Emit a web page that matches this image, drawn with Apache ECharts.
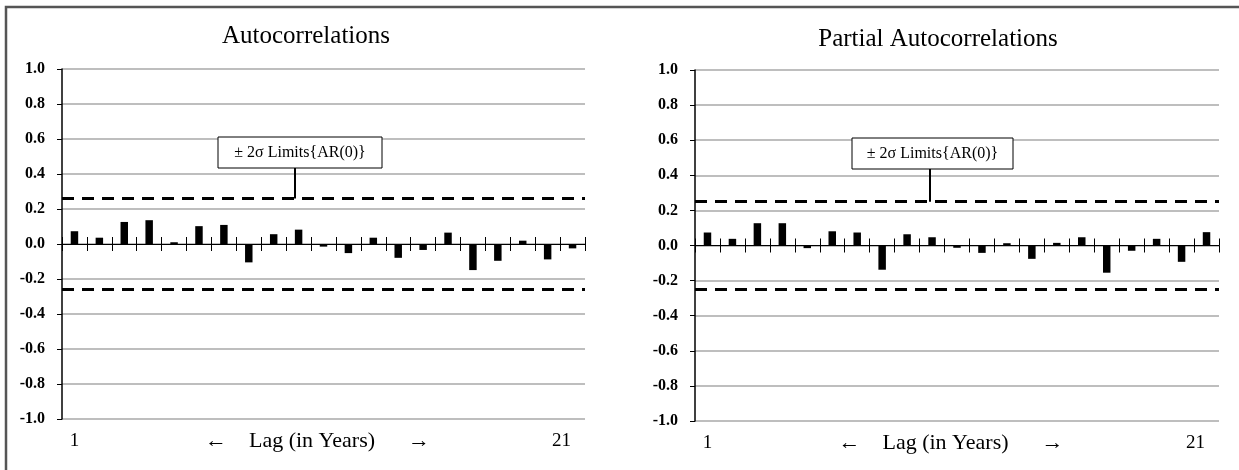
<!DOCTYPE html>
<html><head><meta charset="utf-8">
<script src="https://cdn.jsdelivr.net/npm/echarts@6/dist/echarts.min.js"></script>
<style>html,body{margin:0;padding:0;background:#fff}#c{width:1239px;height:470px}</style>
</head><body><div id="c"></div>
<script>
const lags = ['1','2','3','4','5','6','7','8','9','10','11','12','13','14','15','16','17','18','19','20','21'];
const acf  = [0.073, 0.036, 0.126, 0.136, 0.010, 0.102, 0.109, -0.105, 0.056, 0.082, -0.015,
              -0.052, 0.036, -0.079, -0.034, 0.065, -0.149, -0.096, 0.019, -0.088, -0.025];
const pacf = [0.074, 0.038, 0.127, 0.127, -0.015, 0.081, 0.074, -0.138, 0.064, 0.047, -0.013,
              -0.042, 0.013, -0.076, 0.015, 0.047, -0.155, -0.030, 0.038, -0.093, 0.076];
const acfLimit = 0.26;
const pacfLimit = 0.25;
const yMin = -1.0, yMax = 1.0, yStep = 0.2;
const titles = ['Autocorrelations', 'Partial Autocorrelations'];
const xName = '\u2190    Lag (in Years)      \u2192';
const limitText = '\u00b1 2\u03c3 Limits{AR(0)}';

const SERIF = '"Liberation Serif","DejaVu Serif",serif';
const chart = echarts.init(document.getElementById('c'), null, {renderer: 'canvas'});

const grids = [
  {left: 62, top: 69, width: 523, height: 350, outerBoundsMode: 'none', containLabel: false},
  {left: 695, top: 70, width: 524, height: 351, outerBoundsMode: 'none', containLabel: false}
];

function yAxisFor(gi) {
  return {
    type: 'value', gridIndex: gi, min: yMin, max: yMax, interval: yStep,
    axisLine: {show: true, lineStyle: {color: '#000', width: 1.5}},
    axisTick: {show: true, length: 5, lineStyle: {color: '#000', width: 1}},
    splitLine: {show: true, lineStyle: {color: '#a8a8a8', width: 1.5}},
    axisLabel: {
      color: '#000', fontFamily: SERIF, fontWeight: 'bold', fontSize: 16, margin: 17,
      formatter: v => (Math.abs(v) < 1e-9 ? 0 : v).toFixed(1)
    }
  };
}
function xAxesFor(gi) {
  return [
    {type: 'category', gridIndex: gi, data: lags, position: 'bottom',
      axisLine: {show: true, onZero: true, onZeroAxisIndex: gi, lineStyle: {color: '#000', width: 1}},
      axisTick: {show: true, inside: false, length: 7, lineStyle: {color: '#000', width: 1}},
      axisLabel: {show: false}, splitLine: {show: false}},
    {type: 'category', gridIndex: gi, data: lags, position: 'bottom',
      axisLine: {show: true, onZero: true, onZeroAxisIndex: gi, lineStyle: {color: '#000', width: 1}},
      axisTick: {show: true, inside: true, length: 7, lineStyle: {color: '#000', width: 1}},
      axisLabel: {show: false}, splitLine: {show: false}},
    {type: 'category', gridIndex: gi, data: lags, position: 'bottom',
      axisLine: {show: false, onZero: false}, axisTick: {show: false}, splitLine: {show: false},
      axisLabel: {
        show: true, color: '#000', fontFamily: SERIF, fontSize: 19, margin: 13,
        interval: (i) => i === 0 || i === lags.length - 1,
        formatter: (v, i) => i === lags.length - 1 ? '{r|' + v + '}' : v,
        rich: {r: {fontFamily: SERIF, fontSize: 19, color: '#000', padding: [0, 22, 0, 0]}}
      },
      name: xName, nameLocation: 'middle', nameGap: 22, nameMoveOverlap: false,
      nameTextStyle: {color: '#000', fontFamily: SERIF, fontSize: 22, verticalAlign: 'middle', padding: [0, 12, 0, 0]}
    }
  ];
}
function barSeries(data, gi, limit) {
  return {
    type: 'bar', data: data, xAxisIndex: gi * 3, yAxisIndex: gi, barWidth: '30%',
    itemStyle: {color: '#000'}, animation: false, silent: true,
    markLine: {
      silent: true, symbol: ['none', 'none'], label: {show: false}, animation: false,
      lineStyle: {color: '#000', type: [12, 8], width: 3},
      data: [{yAxis: limit}, {yAxis: -limit}]
    }
  };
}

chart.setOption({
  animation: false,
  grid: grids,
  yAxis: [yAxisFor(0), yAxisFor(1)],
  xAxis: xAxesFor(0).concat(xAxesFor(1)),
  series: [barSeries(acf, 0, acfLimit), barSeries(pacf, 1, pacfLimit)]
});

const yL = chart.convertToPixel({yAxisIndex: 0}, acfLimit);
const yR = chart.convertToPixel({yAxisIndex: 1}, pacfLimit);

function box(x, y, w, h, cx, yEnd) {
  return [
    {type: 'line', shape: {x1: cx, y1: y + h, x2: cx, y2: yEnd}, style: {stroke: '#000', lineWidth: 2}, z: 100},
    {type: 'rect', shape: {x: x, y: y, width: w, height: h}, style: {fill: '#fff', stroke: '#000', lineWidth: 1}, z: 100},
    {type: 'text', x: x + w / 2, y: y + h / 2, z: 101,
      style: {text: limitText, fill: '#000', font: '16px ' + SERIF, textAlign: 'center', textVerticalAlign: 'middle'}}
  ];
}

chart.setOption({
  graphic: [
    {type: 'polyline', shape: {points: [[6, 470], [6, 7], [1239, 7]]}, style: {stroke: '#555', lineWidth: 2.5, fill: null}},
    {type: 'text', x: 306, y: 36, style: {text: titles[0], fill: '#000', font: '25px ' + SERIF, textAlign: 'center', textVerticalAlign: 'middle'}},
    {type: 'text', x: 938, y: 39, style: {text: titles[1], fill: '#000', font: '25px ' + SERIF, textAlign: 'center', textVerticalAlign: 'middle'}}
  ].concat(box(218, 137, 164, 31, 295, yL)).concat(box(852, 138, 161, 31, 930, yR))
});
</script>
</body></html>
